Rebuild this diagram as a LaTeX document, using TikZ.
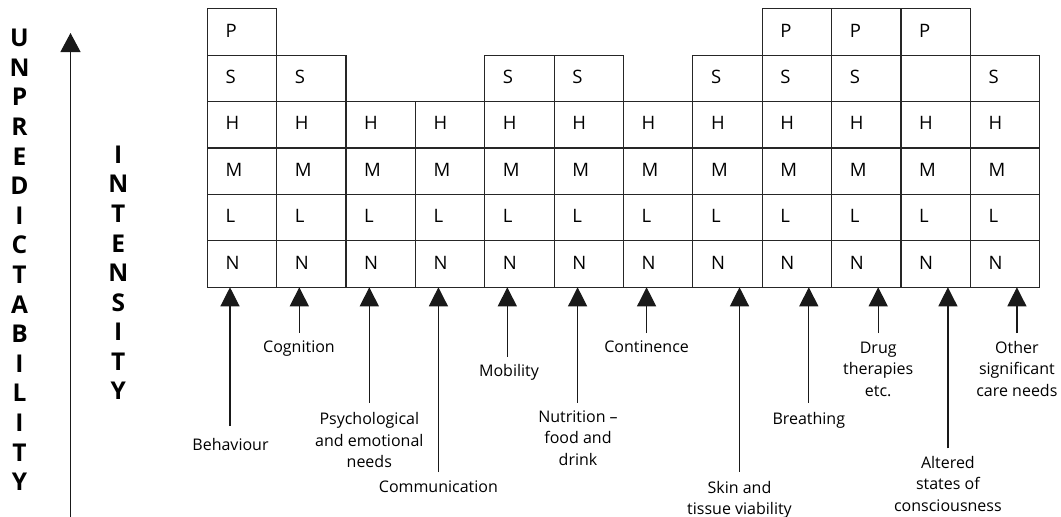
\documentclass[tikz,border=0pt]{standalone}
\usepackage{fontspec}
\setmainfont{Open Sans}
\usetikzlibrary{arrows.meta}
\begin{document}
\begin{tikzpicture}[x=1pt,y=-1pt,
  cell/.style={draw=black!85, line width=1.1pt, minimum width=69.37pt, minimum height=46.43pt, inner sep=0pt, outer sep=0pt},
  letter/.style={anchor=base west, inner sep=0pt, font=\fontsize{18.5}{20}\selectfont},
  lab/.style={anchor=north, inner sep=0pt, align=center, font=\fontsize{16}{21.5}\selectfont},
  arr/.style={draw=black!90, line width=1.2pt, -{Triangle[width=19pt,length=19pt]}},
  big/.style={inner sep=0pt, font=\fontsize{24.5}{26}\selectfont\bfseries}]
\useasboundingbox (0,0) rectangle (1061,517);

% axis arrow and axis words
\coordinate (vbot) at (70.5,517);
\coordinate (vtop) at (70.5,33);
\draw[draw=black!90, line width=1.2pt, -{Triangle[width=20pt,length=19pt]}] (vbot) -- (vtop);
\foreach \l [count=\k from 0] in {U,N,P,R,E,D,I,C,T,A,B,I,L,I,T,Y}
  \node[big] (u\k) at (19.5,{38+29.6*\k}) {\l};
\foreach \l [count=\k from 0] in {I,N,T,E,N,S,I,T,Y}
  \node[big] (n\k) at (118.3,{154.7+29.55*\k}) {\l};

% grid
\foreach \c/\cells in {
  1/{1/P,2/S,3/H,4/M,5/L,6/N},
  2/{2/S,3/H,4/M,5/L,6/N},
  3/{3/H,4/M,5/L,6/N},
  4/{3/H,4/M,5/L,6/N},
  5/{2/S,3/H,4/M,5/L,6/N},
  6/{2/S,3/H,4/M,5/L,6/N},
  7/{3/H,4/M,5/L,6/N},
  8/{2/S,3/H,4/M,5/L,6/N},
  9/{1/P,2/S,3/H,4/M,5/L,6/N},
  10/{1/P,2/S,3/H,4/M,5/L,6/N},
  11/{1/P,2/{},3/H,4/M,5/L,6/N},
  12/{2/S,3/H,4/M,5/L,6/N}}{
  \foreach \r/\l in \cells {
    \node[cell] (c\c-\r) at ({207.3+69.37*(\c-0.5)},{8.7+46.43*(\r-0.5)}) {};
    \node[letter] (t\c-\r) at ([shift={(18,-18.1)}]c\c-\r.south west) {\l};
  }
}

% labels
\node[lab] (l1)  at (230.5,438.5)  {Behaviour};
\node[lab] (l2)  at (299.0,341.0)  {Cognition};
\node[lab] (l3)  at (369.3,412.5)  {Psychological\\and emotional\\needs};
\node[lab] (l4)  at (438.4,481.0)  {Communication};
\node[lab] (l5)  at (509.0,364.5)  {Mobility};
\node[lab] (l6)  at (578.0,410.5)  {Nutrition –\\food and\\drink};
\node[lab] (l7)  at (646.6,341.0)  {Continence};
\node[lab] (l8)  at (739.5,481.0)  {Skin and\\tissue viability};
\node[lab] (l9)  at (808.8,412.5)  {Breathing};
\node[lab] (l10) at (878.2,341.5)  {Drug\\therapies\\etc.};
\node[lab] (l11) at (947.9,456.0)  {Altered\\states of\\consciousness};
\node[lab] (l12) at (1016.9,341.0) {Other\\significant\\care needs};

% arrow tails
\coordinate (a1)  at (230.0,426.0);
\coordinate (a2)  at (299.3,332.7);
\coordinate (a3)  at (369.3,402.7);
\coordinate (a4)  at (438.4,472.0);
\coordinate (a5)  at (507.3,356.7);
\coordinate (a6)  at (577.6,402.7);
\coordinate (a7)  at (646.6,333.0);
\coordinate (a8)  at (739.5,471.7);
\coordinate (a9)  at (808.8,402.7);
\coordinate (a10) at (878.2,333.0);
\coordinate (a11) at (947.9,448.3);
\coordinate (a12) at (1016.9,333.0);

\foreach \i in {1,...,12}
  \draw[arr] (a\i) -- (a\i |- c\i-6.south);
\end{tikzpicture}
\end{document}
